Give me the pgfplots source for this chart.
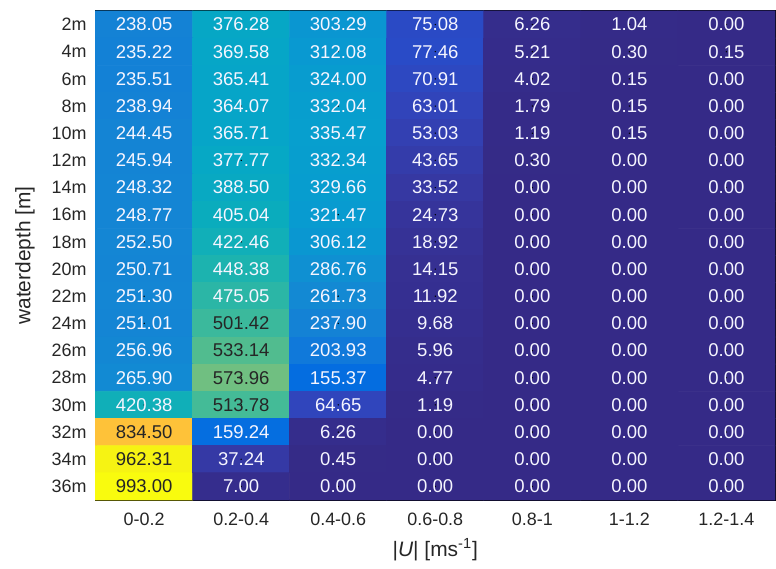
\documentclass[border=0pt]{standalone}
\usepackage{fontspec}
\setmainfont{Liberation Sans}
\usepackage{pgfplots}
\usepackage{pgfplotstable}
\pgfplotsset{compat=1.18}

% rows: depth index (0 = 2m ... 17 = 36m), columns: speed class (0 = 0-0.2 ... 6 = 1.2-1.4)
\pgfplotstableread{
x y c
0 0 238.05
1 0 376.28
2 0 303.29
3 0 75.08
4 0 6.26
5 0 1.04
6 0 0.00
0 1 235.22
1 1 369.58
2 1 312.08
3 1 77.46
4 1 5.21
5 1 0.30
6 1 0.15
0 2 235.51
1 2 365.41
2 2 324.00
3 2 70.91
4 2 4.02
5 2 0.15
6 2 0.00
0 3 238.94
1 3 364.07
2 3 332.04
3 3 63.01
4 3 1.79
5 3 0.15
6 3 0.00
0 4 244.45
1 4 365.71
2 4 335.47
3 4 53.03
4 4 1.19
5 4 0.15
6 4 0.00
0 5 245.94
1 5 377.77
2 5 332.34
3 5 43.65
4 5 0.30
5 5 0.00
6 5 0.00
0 6 248.32
1 6 388.50
2 6 329.66
3 6 33.52
4 6 0.00
5 6 0.00
6 6 0.00
0 7 248.77
1 7 405.04
2 7 321.47
3 7 24.73
4 7 0.00
5 7 0.00
6 7 0.00
0 8 252.50
1 8 422.46
2 8 306.12
3 8 18.92
4 8 0.00
5 8 0.00
6 8 0.00
0 9 250.71
1 9 448.38
2 9 286.76
3 9 14.15
4 9 0.00
5 9 0.00
6 9 0.00
0 10 251.30
1 10 475.05
2 10 261.73
3 10 11.92
4 10 0.00
5 10 0.00
6 10 0.00
0 11 251.01
1 11 501.42
2 11 237.90
3 11 9.68
4 11 0.00
5 11 0.00
6 11 0.00
0 12 256.96
1 12 533.14
2 12 203.93
3 12 5.96
4 12 0.00
5 12 0.00
6 12 0.00
0 13 265.90
1 13 573.96
2 13 155.37
3 13 4.77
4 13 0.00
5 13 0.00
6 13 0.00
0 14 420.38
1 14 513.78
2 14 64.65
3 14 1.19
4 14 0.00
5 14 0.00
6 14 0.00
0 15 834.50
1 15 159.24
2 15 6.26
3 15 0.00
4 15 0.00
5 15 0.00
6 15 0.00
0 16 962.31
1 16 37.24
2 16 0.45
3 16 0.00
4 16 0.00
5 16 0.00
6 16 0.00
0 17 993.00
1 17 7.00
2 17 0.00
3 17 0.00
4 17 0.00
5 17 0.00
6 17 0.00
}\depthtable

\pgfplotsset{
  colormap={parula}{
    rgb=(0.2081,0.1663,0.5292)
    rgb=(0.2123,0.2138,0.6270)
    rgb=(0.1959,0.2645,0.7279)
    rgb=(0.1253,0.3242,0.8303)
    rgb=(0.0117,0.3875,0.8820)
    rgb=(0.0165,0.4266,0.8786)
    rgb=(0.0498,0.4586,0.8641)
    rgb=(0.0723,0.4887,0.8467)
    rgb=(0.0793,0.5200,0.8312)
    rgb=(0.0641,0.5570,0.8240)
    rgb=(0.0343,0.5966,0.8199)
    rgb=(0.0239,0.6287,0.8038)
    rgb=(0.0228,0.6535,0.7768)
    rgb=(0.0384,0.6743,0.7436)
    rgb=(0.0843,0.6928,0.7062)
    rgb=(0.1453,0.7098,0.6646)
    rgb=(0.2178,0.7250,0.6193)
    rgb=(0.3022,0.7376,0.5712)
    rgb=(0.3953,0.7459,0.5244)
    rgb=(0.4871,0.7491,0.4840)
    rgb=(0.5709,0.7485,0.4494)
    rgb=(0.6473,0.7456,0.4188)
    rgb=(0.7184,0.7411,0.3905)
    rgb=(0.7858,0.7356,0.3633)
    rgb=(0.8507,0.7299,0.3360)
    rgb=(0.9139,0.7258,0.3063)
    rgb=(0.9739,0.7314,0.2666)
    rgb=(0.9990,0.7653,0.2164)
    rgb=(0.9880,0.8066,0.1794)
    rgb=(0.9697,0.8481,0.1475)
    rgb=(0.9589,0.8949,0.1132)
    rgb=(0.9661,0.9514,0.0755)
    rgb=(0.9763,0.9831,0.0538)
  }
}

\begin{document}
\begin{tikzpicture}
\begin{axis}[
    scale only axis,
    width=341pt,
    height=245.5pt,
    colormap name=parula,
    point meta min=0, point meta max=993,
    xmin=-0.5, xmax=6.5,
    ymin=-0.5, ymax=17.5,
    y dir=reverse,
    axis line style={line width=1.1pt, black},
    major tick length=0pt,
    xtick={0,...,6},
    xticklabels={0-0.2,0.2-0.4,0.4-0.6,0.6-0.8,0.8-1,1-1.2,1.2-1.4},
    ytick={0,...,17},
    yticklabels={2m,4m,6m,8m,10m,12m,14m,16m,18m,20m,22m,24m,26m,28m,30m,32m,34m,36m},
    tick label style={font=\fontsize{9}{10}\selectfont, text=black!85},
    xticklabel style={yshift=-3pt},
    yticklabel style={xshift=-1pt},
    xlabel={\textbar\textit{U}\textbar\ [ms\textsuperscript{-1}]},
    ylabel={waterdepth [m]},
    label style={font=\fontsize{10.5}{12}\selectfont, text=black!85},
    xlabel style={at={(rel axis cs:0.5,-0.1018)}, anchor=center},
    ylabel style={at={(rel axis cs:-0.104,0.5)}, anchor=center},
    /pgf/number format/assume math mode=true,
    clip=false,
]
\addplot[matrix plot*, mesh/cols=7, mesh/ordering=x varies,
         point meta=\thisrow{c}]
  table[x=x, y=y] {\depthtable};

\addplot[only marks, mark=*, mark size=0.1pt,
         mark options={draw=none, fill=none},
         point meta=\thisrow{c},
         visualization depends on={\thisrow{c} \as \cval},
         nodes near coords={%
           \ifdim\cval pt>490pt\color{black!85}\else\color{white!96!blue}\fi
           \pgfmathprintnumber[fixed, fixed zerofill, precision=2]{\pgfplotspointmeta}},
         nodes near coords align=center,
         every node near coord/.append style={font=\fontsize{9.3}{10}\selectfont, anchor=center}]
  table[x=x, y=y] {\depthtable};

% page extent as in the reference
\path[draw=none] (rel axis cs:-0.1408,-0.1405) rectangle (rel axis cs:1.0,1.0224);
\end{axis}
\end{tikzpicture}
\end{document}
